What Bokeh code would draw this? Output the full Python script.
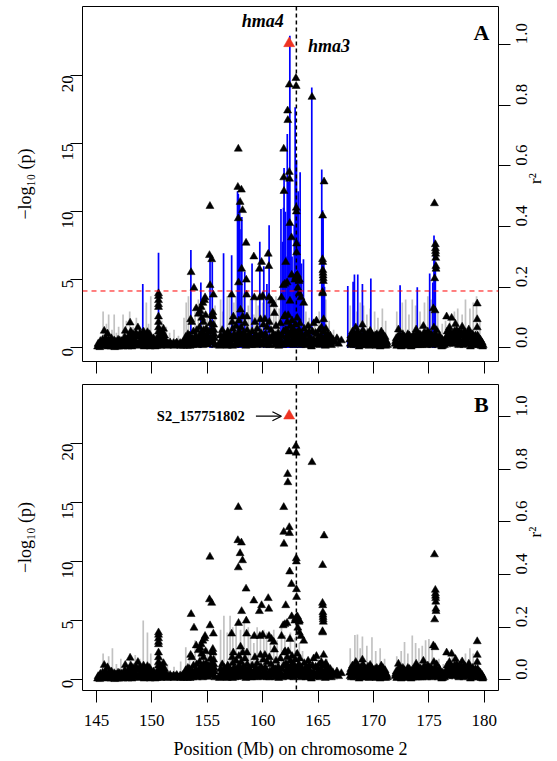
import math
from bokeh.plotting import figure
from bokeh.models import (Range1d, LinearAxis, FixedTicker, PrintfTickFormatter,
                          Span, Label, Arrow, OpenHead, ColumnDataSource)
from bokeh.layouts import column
from bokeh.embed import file_html
from bokeh.resources import INLINE

# ---------------- data (positions in Mb, -log10(p) values) ----------------
snps_145_150 = [
    (145.10, 0.10), (145.20, 0.25), (145.30, 0.05), (145.40, 0.35), (145.50, 0.15), (145.60, 0.45),
    (145.70, 1.25), (145.75, 0.60), (145.80, 0.20), (145.90, 0.40), (146.00, 1.05), (146.05, 0.10),
    (146.15, 0.50), (146.25, 0.20), (146.35, 0.70), (146.45, 0.15), (146.55, 0.35), (146.65, 0.05),
    (146.75, 0.45), (146.85, 0.20), (146.95, 0.60), (147.05, 0.10), (147.15, 0.30), (147.25, 0.50),
    (147.35, 0.15), (147.45, 0.40), (147.55, 0.80), (147.60, 1.25), (147.65, 0.30), (147.75, 0.55),
    (147.85, 0.10), (147.95, 0.90), (148.04, 1.85), (148.10, 1.20), (148.15, 0.40), (148.25, 0.75),
    (148.30, 1.00), (148.40, 0.20), (148.45, 0.60), (148.55, 1.10), (148.60, 0.35), (148.74, 1.50),
    (148.80, 0.80), (148.85, 0.15), (148.95, 0.50), (149.00, 1.00), (149.10, 0.30), (149.15, 0.70),
    (149.25, 1.20), (149.30, 0.10), (149.40, 0.55), (149.45, 0.90), (149.55, 0.25), (149.60, 1.15),
    (149.70, 0.45), (149.75, 0.80), (149.85, 0.10), (149.90, 0.60), (149.95, 0.30)]

snps_150_156 = [
    (150.10, 0.20), (150.20, 0.50), (150.30, 0.10), (150.40, 0.35), (150.50, 0.60),
    (150.60, 4.00), (150.60, 3.80), (150.60, 3.50), (150.60, 3.20), (150.60, 3.00), (150.60, 2.30),
    (150.60, 1.90), (150.60, 1.50), (150.60, 1.20), (150.60, 0.90), (150.60, 0.50), (150.60, 0.20),
    (150.65, 0.70), (150.75, 0.30), (150.85, 1.00), (150.95, 1.15), (151.00, 0.50), (151.05, 1.40),
    (151.10, 0.25), (151.20, 0.60), (151.35, 0.35), (151.50, 0.30), (151.65, 0.40), (151.80, 0.25),
    (151.95, 0.35), (152.10, 0.30), (152.25, 0.40), (152.40, 0.20), (152.55, 0.35), (152.70, 0.30),
    (152.85, 0.15), (152.95, 0.50), (153.05, 0.80), (153.15, 0.30), (153.25, 1.00), (153.35, 0.60),
    (153.45, 0.15), (153.50, 2.10), (153.54, 5.55), (153.60, 1.90), (153.65, 0.70), (153.75, 1.20),
    (153.80, 4.40), (153.85, 0.40), (153.95, 0.90), (154.00, 2.90), (154.05, 1.30), (154.10, 0.20),
    (154.20, 2.50), (154.25, 0.80), (154.30, 1.50), (154.35, 2.70), (154.40, 0.35), (154.45, 3.00),
    (154.50, 2.20), (154.55, 1.10), (154.60, 3.30), (154.65, 1.90), (154.70, 0.60), (154.75, 3.50),
    (154.80, 3.70), (154.85, 2.40), (154.90, 1.40), (154.95, 0.30), (155.00, 0.90), (155.10, 0.50),
    (155.20, 6.80), (155.24, 10.40), (155.25, 4.60), (155.30, 1.80), (155.35, 0.40), (155.40, 6.50),
    (155.45, 2.40), (155.50, 2.60), (155.52, 2.30), (155.55, 3.90), (155.57, 1.70), (155.60, 1.30),
    (155.62, 1.00), (155.65, 0.70), (155.68, 0.20)]

snps_156_162 = [
    (156.15, 0.40), (156.20, 0.90), (156.30, 0.20), (156.35, 1.30), (156.45, 0.60), (156.55, 1.00),
    (156.60, 0.30), (156.70, 0.80), (156.80, 0.15), (156.85, 1.20), (156.95, 0.50), (157.05, 0.90),
    (157.10, 0.25), (157.20, 3.90), (157.25, 1.90), (157.30, 1.40), (157.35, 2.30), (157.40, 0.60),
    (157.45, 1.00), (157.55, 0.30), (157.60, 1.60), (157.70, 0.80), (157.76, 11.80), (157.80, 14.60),
    (157.80, 9.50), (157.82, 4.80), (157.85, 2.00), (157.88, 1.20), (157.90, 0.40), (157.96, 10.70),
    (158.00, 2.80), (158.05, 1.50), (158.08, 11.60), (158.10, 5.80), (158.12, 0.70), (158.18, 10.10),
    (158.20, 2.30), (158.25, 1.10), (158.30, 0.30), (158.40, 1.80), (158.45, 0.90), (158.50, 7.70),
    (158.52, 5.00), (158.55, 3.90), (158.58, 2.30), (158.60, 1.30), (158.65, 0.50), (158.75, 1.00),
    (158.85, 0.20), (158.95, 0.70), (159.05, 1.20), (159.10, 0.30), (159.20, 6.70), (159.24, 3.70),
    (159.30, 1.90), (159.35, 0.90), (159.45, 0.40), (159.50, 1.40), (159.60, 0.80), (159.70, 5.80),
    (159.75, 3.70), (159.80, 2.10), (159.85, 1.10), (159.90, 6.30), (159.95, 0.30), (160.00, 3.80),
    (160.05, 1.70), (160.10, 0.60), (160.20, 2.10), (160.25, 1.00), (160.35, 0.20), (160.40, 1.50),
    (160.50, 6.90), (160.55, 6.00), (160.57, 3.70), (160.60, 1.90), (160.65, 0.70), (160.75, 1.30),
    (160.80, 3.45), (160.85, 0.40), (160.95, 1.00), (161.00, 3.20), (161.06, 2.55), (161.10, 0.20),
    (161.20, 1.60), (161.30, 0.60), (161.40, 1.10), (161.50, 0.30), (161.60, 1.80), (161.70, 3.70),
    (161.75, 0.90), (161.85, 4.60), (161.90, 14.60), (161.90, 12.50), (161.92, 11.50), (161.95, 2.30)]

snps_162_167 = [
    (162.00, 4.70), (162.02, 2.40), (162.05, 1.30), (162.08, 6.30), (162.10, 0.50), (162.20, 4.80),
    (162.22, 1.90), (162.25, 17.40), (162.27, 16.70), (162.30, 2.40), (162.35, 1.00), (162.40, 19.30),
    (162.40, 12.90), (162.42, 12.40), (162.44, 9.15), (162.46, 3.45), (162.50, 1.60), (162.55, 0.40),
    (162.60, 8.10), (162.62, 5.36), (162.65, 2.00), (162.70, 0.90), (162.75, 1.40), (162.80, 0.20),
    (162.90, 5.00), (162.95, 1.70), (162.98, 5.20), (163.00, 19.78), (163.02, 19.20), (163.03, 10.27),
    (163.04, 10.00), (163.05, 7.65), (163.06, 7.00), (163.08, 5.30), (163.10, 5.20), (163.12, 2.20),
    (163.14, 5.35), (163.15, 1.10), (163.17, 4.40), (163.20, 5.10), (163.22, 5.05), (163.25, 0.50),
    (163.28, 4.90), (163.30, 4.00), (163.32, 5.00), (163.35, 1.80), (163.45, 3.70), (163.50, 1.00),
    (163.55, 0.30), (163.70, 3.30), (163.75, 1.40), (163.80, 0.60), (163.90, 0.20), (164.00, 1.00),
    (164.10, 1.60), (164.15, 0.40), (164.25, 0.80), (164.35, 0.20), (164.45, 18.40), (164.50, 1.20),
    (164.60, 1.80), (164.70, 0.50), (164.85, 2.00), (164.90, 1.00), (165.00, 0.30), (165.10, 1.30),
    (165.20, 0.60), (165.30, 1.50), (165.41, 9.70), (165.40, 6.50), (165.42, 6.30), (165.43, 5.70),
    (165.44, 5.50), (165.45, 5.30), (165.46, 5.10), (165.47, 4.90), (165.40, 4.10), (165.41, 4.00),
    (165.50, 2.10), (165.54, 12.20), (165.55, 1.20), (165.60, 0.80), (165.70, 1.40), (165.80, 0.30),
    (165.90, 1.00), (166.00, 0.50), (166.10, 0.90), (166.20, 0.20), (166.35, 0.60), (166.55, 0.40),
    (166.70, 0.70), (166.85, 0.30), (167.10, 0.55)]

snps_167_180 = [
    (167.85, 0.60), (167.95, 0.90), (168.00, 0.20), (168.10, 1.20), (168.20, 0.50), (168.30, 1.00),
    (168.40, 1.50), (168.45, 0.30), (168.55, 1.20), (168.60, 0.70), (168.70, 0.10), (168.80, 1.00),
    (168.90, 0.40), (169.00, 1.70), (169.05, 1.30), (169.10, 0.60), (169.20, 0.20), (169.30, 0.90),
    (169.40, 0.40), (169.50, 1.10), (169.60, 0.15), (169.70, 1.25), (169.80, 0.60), (169.90, 0.30),
    (170.00, 0.80), (170.10, 0.20), (170.20, 0.50), (170.30, 1.00), (170.40, 0.30), (170.50, 0.60),
    (170.60, 0.10), (170.70, 1.20), (170.80, 0.70), (170.90, 0.30), (171.00, 0.50), (171.10, 0.15),
    (171.20, 0.40), (171.95, 0.30), (172.05, 0.70), (172.15, 0.20), (172.25, 1.35), (172.30, 0.90),
    (172.40, 0.40), (172.50, 0.10), (172.60, 0.60), (172.70, 0.30), (172.80, 0.80), (172.90, 0.20),
    (173.00, 0.50), (173.10, 1.00), (173.20, 0.30), (173.30, 0.70), (173.40, 0.10), (173.50, 0.50),
    (173.60, 0.90), (173.70, 0.30), (173.85, 1.35), (173.90, 0.60), (174.00, 0.20), (174.10, 1.00),
    (174.20, 0.50), (174.30, 0.80), (174.40, 0.20), (174.50, 1.60), (174.55, 1.10), (174.60, 0.40),
    (174.70, 0.80), (174.80, 0.20), (174.90, 1.20), (175.00, 0.60), (175.10, 0.30), (175.20, 1.00),
    (175.30, 0.50), (175.40, 2.90), (175.45, 1.50), (175.50, 10.60), (175.52, 5.10), (175.55, 2.75),
    (175.58, 7.60), (175.59, 7.30), (175.60, 7.10), (175.61, 6.90), (175.62, 6.60), (175.63, 6.00),
    (175.64, 5.80), (175.60, 1.00), (175.65, 0.40), (175.70, 1.30), (175.75, 0.70), (175.85, 0.20),
    (175.95, 0.90), (176.05, 0.40), (176.15, 0.10), (176.30, 0.50), (176.40, 0.20), (176.60, 2.30),
    (176.65, 1.20), (176.75, 0.60), (176.85, 1.50), (176.95, 0.80), (177.05, 2.20), (177.10, 1.00),
    (177.20, 0.30), (177.30, 1.20), (177.40, 1.75), (177.45, 0.60), (177.55, 1.00), (177.65, 0.30),
    (177.75, 1.20), (177.85, 0.50), (178.00, 1.55), (178.05, 0.90), (178.15, 0.20), (178.25, 1.10),
    (178.35, 0.60), (178.45, 0.30), (178.60, 1.35), (178.65, 0.80), (178.75, 0.10), (178.85, 0.70),
    (178.95, 1.00), (179.05, 0.40), (179.15, 0.20), (179.36, 3.25), (179.36, 2.10), (179.36, 1.50),
    (179.40, 0.90), (179.45, 0.50), (179.55, 0.20), (179.65, 0.60), (179.75, 0.30), (179.85, 0.10)]

# further low-significance SNPs forming the dense band near zero
snps_band = [
    (145.15, 0.30), (145.25, 0.15), (145.35, 0.50), (145.45, 0.20), (145.55, 0.60), (145.65, 0.25),
    (145.85, 0.70), (145.95, 0.15), (146.10, 0.60), (146.20, 0.30), (146.30, 0.10), (146.40, 0.45),
    (146.50, 0.25), (146.60, 0.55), (146.70, 0.20), (146.80, 0.40), (146.90, 0.10), (147.00, 0.35),
    (147.10, 0.55), (147.20, 0.20), (147.30, 0.40), (147.40, 0.10), (147.50, 0.30), (147.70, 0.15),
    (147.80, 0.65), (147.90, 0.35), (148.00, 0.55), (148.20, 0.10), (148.35, 0.50), (148.50, 0.30),
    (148.65, 0.90), (148.70, 0.25), (148.90, 1.05), (149.05, 0.60), (149.20, 0.40), (149.35, 0.85),
    (149.50, 0.60), (149.65, 0.20), (149.80, 1.00), (150.05, 0.40), (150.15, 0.70), (150.25, 0.30),
    (150.45, 0.15), (150.70, 0.45), (150.80, 0.15), (150.90, 0.60), (151.15, 0.90), (151.25, 0.20),
    (151.40, 0.15), (151.70, 0.20), (152.00, 0.15), (152.30, 0.25), (152.60, 0.15), (152.80, 0.40),
    (153.00, 0.25), (153.10, 0.55), (153.20, 0.15), (153.30, 0.40), (153.40, 0.90), (153.55, 0.30),
    (153.70, 0.20), (153.90, 0.60), (154.15, 0.55), (154.38, 1.00), (154.48, 0.70), (154.58, 0.20),
    (154.68, 1.30), (154.78, 0.90), (154.88, 0.50), (155.05, 0.25), (155.15, 1.20), (155.28, 0.80),
    (155.38, 1.30), (155.48, 0.50), (155.58, 0.40), (156.10, 0.15), (156.25, 0.55), (156.40, 0.25),
    (156.50, 0.75), (156.65, 0.50), (156.75, 0.20), (156.90, 0.85), (157.00, 0.30), (157.15, 0.70),
    (157.28, 0.15), (157.38, 0.90), (157.50, 0.20), (157.58, 0.70), (157.65, 0.25), (157.75, 0.50),
    (157.92, 0.90), (158.02, 0.30), (158.15, 0.25), (158.28, 0.70), (158.35, 0.55), (158.48, 0.15),
    (158.70, 0.30), (158.80, 0.80), (158.90, 0.45), (159.00, 0.20), (159.15, 0.60), (159.25, 0.25),
    (159.40, 1.00), (159.55, 0.20), (159.65, 0.60), (159.78, 0.35), (159.92, 0.90), (160.02, 0.25),
    (160.15, 0.90), (160.30, 0.55), (160.45, 0.30), (160.62, 0.20), (160.70, 0.50), (160.90, 0.70),
    (161.05, 0.55), (161.15, 0.90), (161.25, 0.30), (161.35, 0.80), (161.45, 0.15), (161.55, 0.70),
    (161.65, 0.40), (161.80, 0.20), (161.88, 1.20), (162.00, 0.35), (162.12, 0.80), (162.18, 1.30),
    (162.32, 0.60), (162.38, 0.25), (162.48, 0.90), (162.58, 1.20), (162.68, 0.30), (162.78, 0.70),
    (162.85, 1.10), (162.92, 0.40), (163.02, 0.90), (163.10, 0.30), (163.20, 0.75), (163.28, 1.30),
    (163.40, 0.60), (163.48, 0.20), (163.60, 0.80), (163.65, 0.40), (163.85, 1.00), (163.95, 0.50),
    (164.05, 0.25), (164.20, 1.20), (164.30, 0.50), (164.40, 0.10), (164.55, 0.60), (164.65, 0.25),
    (164.78, 1.10), (164.95, 0.55), (165.05, 0.80), (165.15, 0.20), (165.25, 0.90), (165.35, 0.30),
    (165.52, 0.50), (165.65, 0.15), (165.75, 0.60), (165.85, 0.90), (165.95, 0.25), (166.05, 0.60),
    (166.15, 0.35), (166.25, 0.55), (167.90, 0.30), (168.05, 0.55), (168.15, 0.80), (168.25, 0.20),
    (168.35, 0.65), (168.50, 0.90), (168.65, 0.40), (168.75, 0.80), (168.85, 0.20), (168.95, 0.65),
    (169.15, 1.00), (169.25, 0.50), (169.35, 0.20), (169.45, 0.70), (169.55, 0.40), (169.65, 0.80),
    (169.75, 0.25), (169.85, 1.00), (169.95, 0.60), (170.05, 0.40), (170.15, 0.90), (170.25, 0.15),
    (170.35, 0.60), (170.45, 0.85), (170.55, 0.25), (170.65, 0.80), (170.75, 0.40), (170.85, 1.00),
    (170.95, 0.20), (171.05, 0.80), (171.15, 0.50), (171.25, 0.20), (172.00, 0.50), (172.10, 0.15),
    (172.20, 0.80), (172.35, 0.20), (172.45, 0.85), (172.55, 0.35), (172.65, 1.00), (172.75, 0.55),
    (172.85, 0.15), (172.95, 0.70), (173.05, 0.20), (173.15, 0.60), (173.25, 0.90), (173.35, 0.40),
    (173.45, 0.75), (173.55, 0.20), (173.65, 0.60), (173.75, 0.90), (173.80, 0.20), (173.95, 1.00),
    (174.05, 0.45), (174.15, 0.20), (174.25, 0.95), (174.35, 0.40), (174.45, 0.80), (174.65, 1.10),
    (174.75, 0.50), (174.85, 0.80), (174.95, 0.30), (175.05, 1.00), (175.15, 0.70), (175.25, 0.20),
    (175.35, 0.80), (175.48, 0.30), (175.68, 0.80), (175.80, 0.50), (175.90, 0.30), (176.00, 0.70),
    (176.10, 0.25), (176.20, 0.60), (176.25, 0.15), (176.35, 0.30), (176.50, 0.70), (176.55, 0.40),
    (176.70, 0.90), (176.80, 0.30), (176.90, 1.20), (177.00, 0.50), (177.15, 0.70), (177.25, 0.90),
    (177.35, 0.50), (177.50, 1.30), (177.60, 0.70), (177.70, 0.20), (177.80, 0.90), (177.90, 0.30),
    (177.95, 1.10), (178.10, 0.60), (178.20, 1.20), (178.30, 0.40), (178.40, 0.90), (178.50, 1.00),
    (178.55, 0.30), (178.70, 1.00), (178.80, 0.40), (178.90, 0.20), (179.00, 0.80), (179.10, 0.50),
    (179.20, 0.90), (179.30, 0.30), (179.50, 0.70), (179.60, 0.35), (179.70, 0.15), (179.80, 0.40),
    (179.90, 0.20)]

lead_pos = [162.39]
lead_logp = [22.33]

# r^2 bars (position, r^2)
r2_gray_a = [
    (145.6, 0.12), (145.9, 0.08), (146.1, 0.11), (146.4, 0.06), (146.6, 0.11), (146.8, 0.05),
    (147.0, 0.07), (147.4, 0.11), (147.7, 0.09), (148.0, 0.12), (148.3, 0.07), (148.6, 0.10),
    (149.0, 0.06), (149.5, 0.15), (149.7, 0.08), (149.9, 0.17), (150.3, 0.05), (150.9, 0.09),
    (151.3, 0.07), (151.6, 0.05), (152.0, 0.06), (152.4, 0.04), (152.9, 0.10), (153.1, 0.15),
    (153.3, 0.17), (153.9, 0.12), (154.2, 0.16), (154.6, 0.13), (155.0, 0.10), (155.7, 0.14),
    (156.2, 0.16), (156.4, 0.12), (156.8, 0.17), (157.0, 0.18), (157.4, 0.15), (157.6, 0.17),
    (158.0, 0.16), (158.3, 0.18), (158.7, 0.14), (158.9, 0.16), (159.2, 0.11), (159.4, 0.16),
    (159.6, 0.14), (160.0, 0.15), (160.3, 0.17), (160.7, 0.16), (161.0, 0.14), (161.2, 0.17),
    (161.5, 0.13), (161.8, 0.18), (162.1, 0.16), (162.6, 0.17), (162.8, 0.15), (163.3, 0.18),
    (163.6, 0.14), (163.9, 0.12), (164.2, 0.10), (164.7, 0.08), (165.1, 0.12), (165.7, 0.16),
    (166.0, 0.09), (166.4, 0.06), (166.8, 0.04), (167.9, 0.14), (168.2, 0.16), (168.5, 0.12),
    (168.8, 0.15), (169.1, 0.14), (169.4, 0.11), (169.7, 0.13), (170.1, 0.12), (170.4, 0.10),
    (170.8, 0.13), (171.1, 0.09), (172.1, 0.12), (172.6, 0.15), (172.9, 0.16), (173.2, 0.11),
    (173.5, 0.16), (173.8, 0.14), (174.2, 0.12), (174.6, 0.15), (174.9, 0.17), (175.2, 0.16),
    (175.8, 0.12), (176.2, 0.08), (176.5, 0.09), (176.9, 0.10), (177.3, 0.12), (177.6, 0.13),
    (178.0, 0.11), (178.3, 0.16), (178.7, 0.13), (179.0, 0.15), (179.3, 0.17), (179.6, 0.09)]

r2_blue_a = [
    (149.18, 0.211), (150.60, 0.314), (153.52, 0.323), (154.42, 0.216), (155.25, 0.310),
    (155.45, 0.283), (156.47, 0.312), (157.20, 0.305), (157.73, 0.516), (157.80, 0.507),
    (157.92, 0.485), (158.05, 0.391), (158.12, 0.431), (158.38, 0.251), (159.04, 0.278),
    (159.74, 0.350), (160.10, 0.269), (160.38, 0.211), (160.58, 0.404), (161.65, 0.458),
    (161.80, 0.350), (161.88, 0.462), (161.93, 0.593), (162.05, 0.449), (162.10, 0.301),
    (162.22, 0.705), (162.35, 0.548), (162.45, 1.028), (162.55, 0.404), (162.65, 0.301),
    (162.75, 0.247), (162.85, 0.404), (162.93, 0.793), (163.05, 0.620), (163.12, 0.449),
    (163.20, 0.516), (163.30, 0.350), (163.38, 0.579), (163.50, 0.278), (163.68, 0.292),
    (164.43, 0.858), (165.33, 0.588), (165.40, 0.454), (165.45, 0.431), (165.52, 0.292),
    (165.58, 0.202), (167.68, 0.204), (168.16, 0.218), (168.28, 0.242), (168.58, 0.242),
    (169.00, 0.211), (169.76, 0.229), (172.40, 0.207), (173.95, 0.200), (175.07, 0.245),
    (175.35, 0.216), (175.46, 0.370), (175.52, 0.341), (175.58, 0.269)]

r2_gray_b = [
    (145.6, 0.10), (146.1, 0.09), (146.44, 0.12), (146.8, 0.06), (147.2, 0.08), (147.6, 0.07),
    (148.0, 0.10), (148.5, 0.094), (148.9, 0.08), (149.22, 0.225), (149.6, 0.18), (149.9, 0.10),
    (150.3, 0.06), (150.9, 0.08), (151.4, 0.06), (152.0, 0.05), (152.6, 0.07), (153.06, 0.124),
    (153.4, 0.10), (153.9, 0.15), (154.3, 0.13), (154.6, 0.16), (155.0, 0.12), (155.7, 0.10),
    (156.2, 0.19), (156.5, 0.243), (156.8, 0.18), (157.06, 0.243), (157.3, 0.20), (157.6, 0.21),
    (158.0, 0.19), (158.34, 0.218), (158.7, 0.20), (158.9, 0.17), (159.2, 0.14), (159.5, 0.20),
    (159.8, 0.17), (160.1, 0.19), (160.35, 0.18), (160.7, 0.14), (161.0, 0.19), (161.3, 0.15),
    (161.7, 0.20), (162.0, 0.17), (162.5, 0.18), (162.9, 0.16), (163.3, 0.14), (163.6, 0.11),
    (164.0, 0.08), (164.5, 0.07), (165.0, 0.09), (165.8, 0.08), (166.3, 0.05), (166.7, 0.04),
    (167.9, 0.12), (168.32, 0.17), (168.55, 0.172), (168.8, 0.12), (169.0, 0.165), (169.4, 0.13),
    (169.86, 0.162), (170.2, 0.11), (170.6, 0.12), (171.0, 0.08), (172.1, 0.09), (172.5, 0.11),
    (172.8, 0.144), (173.1, 0.10), (173.5, 0.168), (173.8, 0.14), (174.1, 0.12), (174.4, 0.13),
    (174.7, 0.15), (175.0, 0.155), (175.3, 0.12), (175.9, 0.08), (176.3, 0.06), (176.7, 0.07),
    (177.1, 0.09), (177.5, 0.06), (177.9, 0.08), (178.3, 0.10), (178.7, 0.12), (179.0, 0.10),
    (179.4, 0.08)]

x_ticks = [145, 150, 155, 160, 165, 170, 175, 180]
y_ticks = [0, 5, 10, 15, 20]
r2_ticks = [0.0, 0.2, 0.4, 0.6, 0.8, 1.0]
gene_focus = 163.04      # dashed vertical marker (hma3)
threshold = 4.18         # significance threshold in panel A

K = 22.27                # -log10(p) units per unit of r^2
FONT = "Liberation Serif"

all_snps = snps_145_150 + snps_150_156 + snps_156_162 + snps_162_167 + snps_167_180 + snps_band
snp_pos = [s[0] for s in all_snps]
snp_logp = [s[1] for s in all_snps]


def style_axis(ax):
    ax.axis_line_color = None
    ax.major_tick_line_color = "black"
    ax.major_tick_line_width = 1
    ax.major_tick_out = 12
    ax.major_tick_in = 0
    ax.minor_tick_line_color = None
    ax.major_label_text_font = FONT
    ax.major_label_text_font_size = "17px"
    ax.major_label_text_color = "black"
    ax.axis_label_text_font = FONT
    ax.axis_label_text_font_style = "normal"
    ax.axis_label_text_font_size = "18px"
    ax.axis_label_text_color = "black"


def bars(p, data, color):
    src = ColumnDataSource(dict(x=[d[0] for d in data], top=[d[1] for d in data],
                                base=[0.0] * len(data)))
    p.segment(x0="x", y0="base", x1="x", y1="top", source=src, y_range_name="r2",
              line_color=color, line_width=1.7)


def panel(height, ylo, yhi, border_top, border_bottom, show_x, gray, blue, letter, letter_y):
    p = figure(width=557, height=height, x_range=Range1d(143.74, 181.28),
               y_range=Range1d(ylo, yhi), output_backend="svg", toolbar_location=None,
               min_border_left=82, min_border_right=59, min_border_top=border_top,
               min_border_bottom=border_bottom)
    p.extra_y_ranges = {"r2": Range1d(ylo / K, yhi / K)}
    p.grid.visible = False
    p.outline_line_color = "black"
    p.outline_line_width = 1
    p.outline_line_alpha = 1

    xa = p.xaxis[0]
    style_axis(xa)
    xa.ticker = FixedTicker(ticks=x_ticks)
    if show_x:
        xa.axis_label = "Position (Mb) on chromosome 2"
        xa.major_label_standoff = 12
        xa.axis_label_standoff = 10
    else:
        xa.major_label_text_font_size = "1px"
        xa.major_label_text_color = None
        xa.major_label_standoff = 0

    ya = p.yaxis[0]
    style_axis(ya)
    ya.ticker = FixedTicker(ticks=y_ticks)
    ya.axis_label = "\u2212log\u2081\u2080 (p)"
    ya.major_label_orientation = math.pi / 2
    ya.major_label_standoff = 3
    ya.axis_label_standoff = 19

    ra = LinearAxis(y_range_name="r2", ticker=FixedTicker(ticks=r2_ticks),
                    formatter=PrintfTickFormatter(format="%.1f"))
    style_axis(ra)
    ra.major_label_orientation = math.pi / 2
    ra.major_label_standoff = 11
    ra.axis_label = "r\u00b2"
    ra.axis_label_standoff = 0
    ra.axis_label_text_font_size = "17px"
    try:
        ra.axis_label_orientation = math.pi / 2
    except Exception:
        pass
    p.add_layout(ra, "right")

    bars(p, gray, "#c2c2c2")
    if blue:
        bars(p, blue, "#0000ff")

    p.scatter(snp_pos, snp_logp, marker="triangle", size=8, fill_color="black",
              line_color="black", line_width=0.5)
    p.scatter(lead_pos, lead_logp, marker="triangle", size=11, fill_color="#ee3322",
              line_color="#ee3322", line_width=0.5)

    p.add_layout(Span(location=gene_focus, dimension="height", line_color="black",
                      line_width=1.5, line_dash="4 3"))

    p.add_layout(Label(x=179.73, y=letter_y, text=letter, text_font=FONT,
                       text_font_style="bold", text_font_size="22px",
                       text_align="center", text_baseline="middle", text_color="black"))
    return p


pA = panel(384, -0.99, 25.04, 6, 23, False, r2_gray_a, r2_blue_a, "A", 23.13)
pA.add_layout(Span(location=threshold, dimension="width", line_color="red",
                   line_width=1, line_dash="5 4"))
pA.add_layout(Label(x=160.0, y=23.96, text="hma4", text_font=FONT,
                    text_font_style="bold italic", text_font_size="18px",
                    text_align="center", text_baseline="middle", text_color="black"))
pA.add_layout(Label(x=165.99, y=22.18, text="hma3", text_font=FONT,
                    text_font_style="bold italic", text_font_size="18px",
                    text_align="center", text_baseline="middle", text_color="black"))

pB = panel(377, -0.90, 24.98, 0, 69, True, r2_gray_b, None, "B", 23.26)
pB.add_layout(Label(x=154.41, y=22.29, text="S2_157751802", text_font=FONT,
                    text_font_style="bold", text_font_size="14.5px",
                    text_align="center", text_baseline="middle", text_color="black"))
pB.add_layout(Arrow(end=OpenHead(size=9, line_width=1.2, line_color="black"),
                    x_start=159.39, y_start=22.3, x_end=161.69, y_end=22.3,
                    line_width=1.2, line_color="black"))

layout = column(pA, pB, spacing=0)
open("out.html", "w").write(file_html(layout, INLINE))
